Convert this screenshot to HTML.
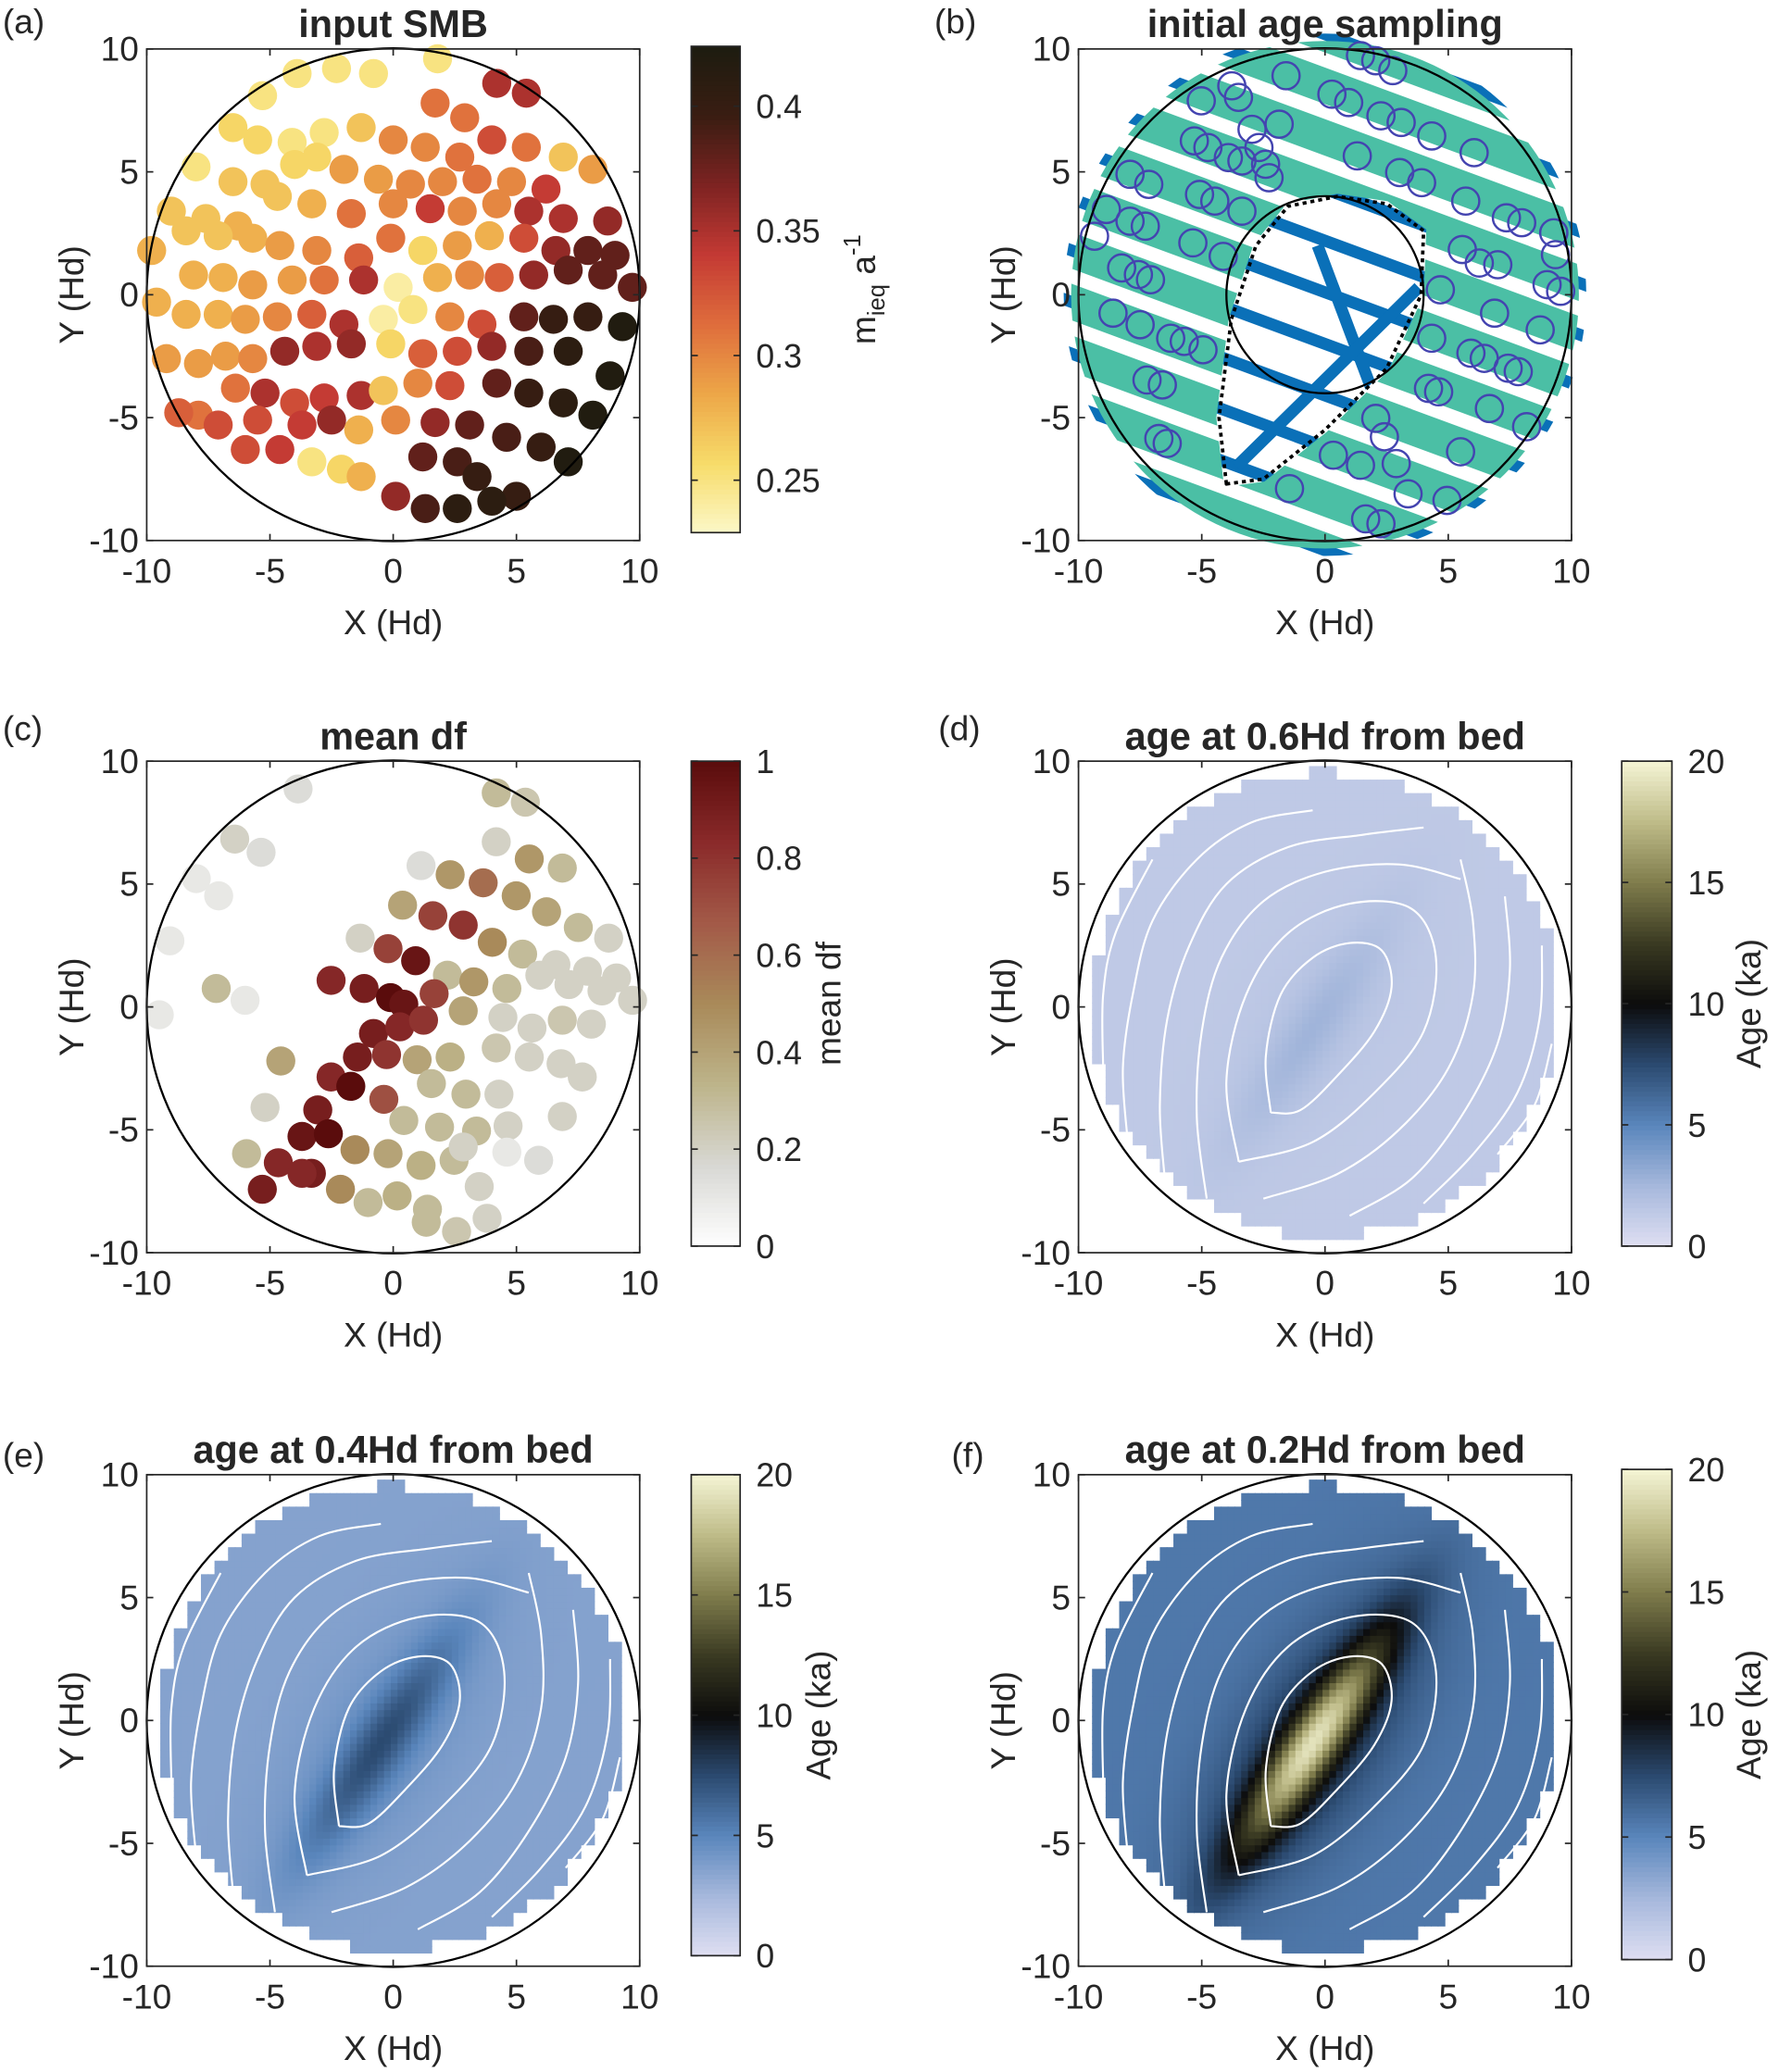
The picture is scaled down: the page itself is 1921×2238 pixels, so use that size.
<!DOCTYPE html>
<html><head><meta charset="utf-8"><style>
html,body{margin:0;padding:0;background:#fff}
svg{display:block}
text{font-family:"Liberation Sans",Arial,sans-serif;fill:#262626}
</style></head><body>
<svg id="fig" xmlns="http://www.w3.org/2000/svg" width="1921" height="2238" viewBox="0 0 1346 1568"></svg>
<script>
// ---------- DATA ----------
const ticks=[-10,-5,0,5,10];
const tickLabels=["-10","-5","0","5","10"];
// panel a: SMB scatter
const smbX=[-5.3,-3.9,-2.3,-0.8,1.7,2.9,4.2,5.4,1.8,-6.5,-5.5,-4.1,-2.8,-1.3,0,1.3,2.7,4.0,5.4,6.9,8.1,-8.0,-6.5,-5.2,-4.0,-3.1,-2.0,-0.6,0.7,2.0,3.4,4.8,6.2,-9.0,-7.6,-6.3,-4.7,-3.3,-1.7,0,1.5,2.8,4.2,5.5,6.9,8.7,-9.8,-8.4,-7.1,-5.7,-4.6,-3.1,-1.4,-0.1,1.2,2.6,3.9,5.3,6.6,7.9,9.0,-8.1,-6.9,-5.7,-4.1,-2.8,-1.2,0.2,1.8,3.1,4.3,5.7,7.1,8.5,9.7,-9.6,-8.4,-7.1,-6.0,-4.7,-3.3,-2.0,-0.4,0.8,2.3,3.6,5.3,6.5,7.9,9.3,-9.2,-7.9,-6.8,-5.7,-4.4,-3.1,-1.7,-0.1,1.2,2.6,4.0,5.5,7.1,8.8,-7.9,-6.4,-5.2,-4.0,-2.8,-1.3,-0.4,1.0,2.3,4.2,5.5,6.9,8.1,-8.7,-7.1,-5.5,-3.7,-2.5,-1.4,0.1,1.7,3.1,4.6,6.0,7.1,-6.0,-4.6,-3.3,-2.1,0.1,1.2,2.6,3.4,5.0,2.6,4.0,1.3,-1.3];
const smbY=[8.1,9.0,9.2,9.0,7.8,7.2,8.6,8.2,9.6,6.8,6.3,6.2,6.6,6.8,6.3,6.0,5.6,6.3,6.0,5.6,5.1,5.2,4.6,4.5,5.3,5.6,5.1,4.7,4.5,4.6,4.7,4.6,4.3,3.4,3.1,2.8,4.0,3.7,3.3,3.7,3.5,3.4,3.7,3.4,3.1,3.0,1.8,2.6,2.4,2.3,2.0,1.8,1.5,2.3,1.8,2.0,2.4,2.3,1.8,1.8,1.6,0.8,0.7,0.4,0.6,0.6,0.6,0.3,0.7,0.8,0.7,0.8,1.0,0.8,0.3,-0.3,-0.8,-0.8,-1.0,-0.9,-0.8,-1.2,-1.0,-0.6,-0.9,-1.2,-0.9,-1.0,-0.9,-1.3,-2.6,-2.8,-2.5,-2.6,-2.3,-2.1,-2.0,-2.0,-2.4,-2.3,-2.1,-2.3,-2.3,-3.3,-4.9,-3.8,-4.0,-4.4,-4.2,-4.1,-3.9,-3.6,-3.7,-3.6,-4.0,-4.4,-4.9,-4.8,-5.3,-5.1,-5.3,-5.1,-5.5,-5.1,-5.2,-5.3,-5.8,-6.2,-6.8,-6.3,-6.3,-6.8,-7.1,-8.2,-6.6,-6.8,-7.4,-8.2,-8.7,-8.4,-8.7,-7.4];
const smbV=[.25,.25,.25,.25,.31,.31,.35,.35,.25,.26,.26,.25,.25,.27,.30,.30,.31,.33,.31,.27,.29,.25,.27,.27,.26,.26,.29,.29,.30,.30,.31,.30,.34,.27,.27,.28,.27,.28,.31,.30,.34,.30,.30,.35,.35,.36,.28,.27,.27,.28,.29,.30,.32,.31,.26,.29,.28,.33,.36,.38,.38,.28,.28,.29,.29,.31,.35,.24,.28,.30,.32,.36,.38,.38,.38,.28,.28,.28,.29,.30,.32,.35,.24,.25,.30,.33,.38,.40,.40,.42,.29,.29,.29,.30,.36,.35,.36,.26,.32,.33,.36,.39,.41,.42,.31,.31,.35,.33,.34,.35,.27,.30,.33,.38,.40,.41,.42,.32,.33,.33,.34,.36,.28,.30,.36,.38,.39,.40,.42,.33,.34,.25,.26,.36,.38,.39,.40,.40,.41,.41,.39,.28];
const smbTicks=[0.25,0.3,0.35,0.4];
const smbRange=[0.229,0.424];
// panel b: sampling
const trackB=[10.6,8.5,6.4,4.3,2.2,0.1,-2.0,-4.1,-6.2,-8.3,-10.4,-12.5];
const trackSlope=-0.37;
const sampX=[1.44,2.06,2.75,-1.58,-3.78,-3.51,-5.02,0.28,0.96,2.27,3.09,-2.96,-1.86,4.33,6.05,1.31,-5.30,-4.75,-3.92,-3.37,-2.68,-2.41,-2.27,3.03,3.92,-7.91,-7.15,-5.09,-4.47,-3.37,5.71,7.36,7.98,9.28,9.35,-8.87,-7.91,-7.29,-9.35,-5.36,-4.13,5.57,6.26,7.01,9.01,9.56,-8.25,-7.57,-7.08,4.68,6.88,8.73,-8.60,-7.50,-6.26,-5.71,-4.95,4.33,5.92,6.46,7.43,7.84,4.20,4.61,-7.22,-6.60,-6.74,-6.40,2.06,2.41,6.67,8.18,0.34,1.44,2.89,5.50,-1.44,3.37,4.95,1.65,2.27];
const sampY=[9.73,9.52,9.12,8.91,8.50,8.03,7.89,8.16,7.82,7.28,7.01,6.73,6.94,6.46,5.78,5.65,6.26,5.99,5.58,5.44,5.99,5.31,4.76,4.97,4.56,4.90,4.49,4.08,3.81,3.40,3.81,3.13,2.93,2.52,1.63,3.47,2.99,2.79,2.38,2.11,1.56,1.84,1.29,1.22,0.41,0.14,1.09,0.82,0.61,0.20,-0.75,-1.43,-0.75,-1.22,-1.77,-1.90,-2.24,-1.77,-2.38,-2.59,-2.99,-3.13,-3.81,-3.95,-3.47,-3.67,-5.85,-6.05,-5.03,-5.78,-4.63,-5.37,-6.53,-6.94,-6.87,-6.39,-7.89,-8.10,-8.37,-9.12,-9.32];
const tearX=[-4,-4.3,-3.8,-2.8,-1.5,0.5,2.5,4,3.9,2.5,0,-2.5];
const tearY=[-7.7,-5,-1,2,3.6,4,3.7,2.6,0,-3,-5.5,-7.5];
const crossX1=[-0.3,2.1], crossY1=[2.0,-4.4];
const crossX2=[3.8,-3.6], crossY2=[0.3,-7.0];
// panel c: mean df
const dfX=[-3.86,-6.43,-5.36,-7.99,-7.08,-9.06,-9.49,-7.18,-6.01,4.18,5.36,4.18,5.52,6.86,1.13,2.31,3.65,4.99,6.22,7.51,8.74,0.38,1.61,2.84,4.02,5.25,6.60,7.88,9.06,-1.34,-0.21,0.91,2.20,3.27,4.61,5.95,7.13,8.47,9.71,-2.52,-1.18,-0.11,0.43,1.66,2.84,4.45,5.63,6.86,8.04,-0.80,0.27,1.23,-4.56,-1.45,-0.27,0.97,2.31,4.18,5.52,6.81,-2.52,-1.72,-0.38,1.55,2.95,4.29,7.67,-5.20,-3.06,-3.70,-2.63,0.43,1.88,3.38,4.66,6.86,-5.95,-4.66,-3.32,-1.55,-0.21,1.13,2.47,2.84,4.61,5.90,-5.31,-2.14,-1.02,0.16,1.39,3.49,3.81,2.57,1.34,-3.70];
const dfY=[8.87,6.83,6.29,5.22,4.52,2.69,-0.32,0.75,0.27,8.71,8.33,6.72,6.02,5.65,5.75,5.38,5.05,4.52,3.87,3.23,2.80,4.14,3.71,3.33,2.63,2.15,1.72,1.45,1.18,2.80,2.37,1.88,1.29,1.02,0.75,1.29,0.91,0.65,0.27,1.08,0.75,0.38,0.11,0.54,-0.16,-0.43,-0.86,-0.54,-0.70,-1.08,-0.81,-0.54,-2.20,-2.04,-1.94,-2.15,-2.04,-1.67,-2.04,-2.31,-2.85,-3.23,-3.76,-3.12,-3.55,-3.55,-2.85,-4.09,-4.19,-5.27,-5.16,-4.62,-4.89,-5.05,-4.84,-4.46,-5.97,-6.34,-6.77,-5.81,-5.97,-6.45,-6.24,-5.70,-5.91,-6.24,-7.42,-7.42,-7.96,-7.69,-8.23,-7.31,-8.60,-9.14,-8.76,-6.77];
const dfV=[.15,.2,.15,.1,.1,.1,.1,.3,.1,.3,.25,.2,.45,.3,.15,.45,.6,.45,.4,.3,.2,.4,.75,.8,.5,.3,.2,.2,.2,.2,.75,.95,.3,.45,.3,.2,.2,.2,.2,.85,.9,1,.95,.75,.4,.2,.2,.25,.2,.9,.85,.8,.4,.9,.8,.4,.35,.25,.2,.2,.85,1,.7,.3,.3,.2,.2,.2,.9,.95,1,.3,.3,.3,.2,.2,.3,.85,.9,.5,.4,.35,.3,.2,.1,.15,.9,.5,.3,.35,.3,.2,.2,.25,.3,.85];
const dfTicks=[0,0.2,0.4,0.6,0.8,1];
// panels d,e,f: age fields (ka)
const ageBase=[1.4,3.6,5.6];
const agePeak=[1.0,3.0,10.5];
const ageTicks=[0,5,10,15,20];
// streamlines (Hd)
const streamX=[[-2.2,-2.4,-1.8,-0.5,1,2.3,2.7,2,0.5,-1,-2.2],[-3.5,-4,-3.2,-1.5,1,3.5,4.5,4,2,-0.5,-3.5],[-4.8,-5.2,-5,-4.2,-2.5,0,3,5.5],[-6.5,-6.7,-6.4,-5.5,-4,-1.5,1.5,4],[-8,-8.2,-7.8,-7,-5.2,-3,-0.5],[-9,-9,-8.5,-7],[-2.5,0.5,3,5,6,6,5.5],[1,3.5,5.5,7,7.5,7.3],[4,6,7.8,8.7,8.8],[7,8.5,9.2]];
const streamY=[[-4.3,-2,0.5,2,2.6,2.3,0.8,-1,-2.8,-4.2,-4.3],[-6.3,-3,0.5,3,4.2,4,2,-1,-3.5,-5.5,-6.3],[-7.8,-4.5,-1,2,4.3,5.5,5.8,5.2],[-7,-4,-0.5,2.5,5,6.5,7,7.3],[-5.5,-2.5,0.5,3.5,6,7.5,8],[-2.5,0.5,3,6],[-7.8,-6.8,-5,-2.5,0.5,3.5,6],[-8.5,-7,-4.5,-1.5,1.5,4.5],[-8,-6,-3.5,-0.5,2.5],[-6,-4,-1.5]];

// ---------- HELPERS ----------
const NS="http://www.w3.org/2000/svg";
const svg=document.getElementById('fig');
function mk(tag,attrs,parent){const e=document.createElementNS(NS,tag);for(const k in attrs)e.setAttribute(k,attrs[k]);(parent||svg).appendChild(e);return e;}
function hex(c){return[parseInt(c.slice(1,3),16),parseInt(c.slice(3,5),16),parseInt(c.slice(5,7),16)];}
function cmap(stops,t){t=Math.max(0,Math.min(1,t));const n=stops.length-1;const i=Math.min(n-1,Math.floor(t*n));const f=t*n-i;const a=hex(stops[i]),b=hex(stops[i+1]);return'rgb('+a.map((v,k)=>Math.round(v+(b[k]-v)*f)).join(',')+')';}
const smbMap=['#fcf8c8','#f7dc6a','#eda748','#df6d3c','#c43a34','#7e2322','#3a1d12','#1d1c10'];
const dfMap=['#ffffff','#d8d8d4','#bdb48a','#a98a5a','#a35a48','#8a2a2a','#5a0c0c'];
const ageMap=['#dfdff2','#a6b8dc','#5a86bc','#2b4a70','#0c0c0c','#3a3a22','#7f7c4c','#bebb88','#f4f4d4'];
function smoothPath(pts){
  let d='M'+pts[0][0]+','+pts[0][1];
  for(let i=0;i<pts.length-1;i++){
    const p0=pts[Math.max(0,i-1)],p1=pts[i],p2=pts[i+1],p3=pts[Math.min(pts.length-1,i+2)];
    const c1=[p1[0]+(p2[0]-p0[0])/6,p1[1]+(p2[1]-p0[1])/6],c2=[p2[0]-(p3[0]-p1[0])/6,p2[1]-(p3[1]-p1[1])/6];
    d+=' C'+c1+' '+c2+' '+p2;
  }
  return d;
}

function panel(L,T,R,B,id){
  const sx=x=>L+(x+10)*(R-L)/20, sy=y=>B-(y+10)*(B-T)/20;
  return {L,T,R,B,sx,sy,k:(R-L)/20,id};
}
function axes(p,title,letter,lx,ly){
  const g=mk('g',{});
  
  const c=mk('circle',{cx:p.sx(0),cy:p.sy(0),r:10*p.k,fill:'none',stroke:'#000','stroke-width':1.6},g);
  
  const box=mk('rect',{x:p.L,y:p.T,width:p.R-p.L,height:p.B-p.T,fill:'none',stroke:'#262626','stroke-width':1.2},g);
  
  ticks.forEach((v,i)=>{
    const x=p.sx(v),y=p.sy(v);
    mk('line',{x1:x,x2:x,y1:p.B,y2:p.B-5,stroke:'#262626','stroke-width':1.2},g);
    mk('line',{x1:x,x2:x,y1:p.T,y2:p.T+5,stroke:'#262626','stroke-width':1.2},g);
    mk('line',{x1:p.L,x2:p.L+5,y1:y,y2:y,stroke:'#262626','stroke-width':1.2},g);
    mk('line',{x1:p.R,x2:p.R-5,y1:y,y2:y,stroke:'#262626','stroke-width':1.2},g);
    const tx=mk('text',{x:x,y:p.B+32,'font-size':26,'text-anchor':'middle'},g);tx.textContent=tickLabels[i];
    
    const ty=mk('text',{x:p.L-6,y:y+9,'font-size':26,'text-anchor':'end'},g);ty.textContent=tickLabels[i];
    
  });
  const xl=mk('text',{x:(p.L+p.R)/2,y:p.B+71,'font-size':26,'text-anchor':'middle'},g);xl.textContent='X (Hd)';
  
  const yx=p.L-48,yy=(p.T+p.B)/2;
  const yl=mk('text',{x:yx,y:yy,'font-size':26,'text-anchor':'middle',transform:`rotate(-90 ${yx} ${yy})`},g);yl.textContent='Y (Hd)';
  
  const tt=mk('text',{x:(p.L+p.R)/2,y:p.T-9,'font-size':29,'font-weight':'bold','text-anchor':'middle'},g);tt.textContent=title;
  
  const lt=mk('text',{x:lx,y:ly,'font-size':26},g);lt.textContent=letter;
  
}
function colorbar(id,x0,y0,x1,y1,stops,vmin,vmax,tks,labels,label,labelX){
  const g=mk('g',{});
  
  const n=100,h=(y1-y0)/n;
  for(let i=0;i<n;i++){mk('rect',{x:x0,y:y1-(i+1)*h,width:x1-x0,height:h+0.6,fill:cmap(stops,(i+0.5)/n)},g);}
  mk('rect',{x:x0,y:y0,width:x1-x0,height:y1-y0,fill:'none',stroke:'#262626','stroke-width':1.2},g);
  tks.forEach((v,i)=>{const y=y1-(v-vmin)/(vmax-vmin)*(y1-y0);
    mk('line',{x1:x1,x2:x1-5,y1:y,y2:y,stroke:'#262626','stroke-width':1.2},g);
    mk('line',{x1:x0,x2:x0+5,y1:y,y2:y,stroke:'#262626','stroke-width':1.2},g);
    const t=mk('text',{x:x1+12,y:y+9,'font-size':25},g);t.textContent=labels[i];
    });
  const cy=(y0+y1)/2;
  const t=mk('text',{x:labelX,y:cy,'font-size':26,'text-anchor':'middle',transform:`rotate(-90 ${labelX} ${cy})`},g);
  t.innerHTML=label;
  
}

// ---------- PANEL A ----------
const pa=panel(111,37,484,409,'panel-a');
const ga=mk('g',{});
smbX.forEach((x,i)=>{const c=mk('circle',{cx:pa.sx(x),cy:pa.sy(smbY[i]),r:11,fill:cmap(smbMap,(smbV[i]-smbRange[0])/(smbRange[1]-smbRange[0]))},ga);
  });
axes(pa,'input SMB','(a)',2,25);
colorbar('smb',523,35,560,403,smbMap,smbRange[0],smbRange[1],smbTicks,['0.25','0.3','0.35','0.4'],'m<tspan font-size="18" dy="7">ieq</tspan><tspan dy="-7"> a</tspan><tspan font-size="18" dy="-11">-1</tspan>',662);

// ---------- PANEL B ----------
const pb=panel(816,37,1189,409,'panel-b');
const defs=mk('defs',{});
const tearPts=tearX.map((x,i)=>pb.sx(x)+','+pb.sy(tearY[i]));
const cpb=mk('clipPath',{id:'cpb'},defs);mk('circle',{cx:pb.sx(0),cy:pb.sy(0),r:10.6*pb.k},cpb);
const cpt=mk('clipPath',{id:'cpt'},defs);mk('polygon',{points:tearPts.join(' ')},cpt);
const mg=mk('mask',{id:'mgreen'},defs);
mk('circle',{cx:pb.sx(0),cy:pb.sy(0),r:10.3*pb.k,fill:'#fff'},mg);
mk('polygon',{points:tearPts.join(' '),fill:'#000',stroke:'#000','stroke-width':4},mg);
const gb=mk('g',{'clip-path':'url(#cpb)'});
trackB.forEach(b=>{const l=mk('line',{x1:pb.sx(-12),y1:pb.sy(b-trackSlope*12),x2:pb.sx(12),y2:pb.sy(b+trackSlope*12),stroke:'#0a70b8','stroke-width':9,'stroke-linecap':'round'},gb);
  });
const gx=mk('g',{'clip-path':'url(#cpt)'},gb);
[[crossX1,crossY1],[crossX2,crossY2]].forEach(([xs,ys])=>{const l=mk('line',{x1:pb.sx(xs[0]),y1:pb.sy(ys[0]),x2:pb.sx(xs[1]),y2:pb.sy(ys[1]),stroke:'#0a70b8','stroke-width':9},gx);
  });
const gg=mk('g',{mask:'url(#mgreen)'});
trackB.forEach(b=>{const l=mk('line',{x1:pb.sx(-12),y1:pb.sy(b-trackSlope*12),x2:pb.sx(12),y2:pb.sy(b+trackSlope*12),stroke:'#4bbfa5','stroke-width':26,'stroke-linecap':'round'},gg);
  });
const gs=mk('g',{});
sampX.forEach((x,i)=>{const c=mk('circle',{cx:pb.sx(x),cy:pb.sy(sampY[i]),r:0.55*pb.k,fill:'none',stroke:'#4444b0','stroke-width':1.7},gs);
  });
const ic=mk('circle',{cx:pb.sx(0),cy:pb.sy(0),r:4*pb.k,fill:'none',stroke:'#000','stroke-width':1.6});

const td=mk('polygon',{points:tearPts.join(' '),fill:'none',stroke:'#000','stroke-width':2.6,'stroke-dasharray':'3 3','stroke-linejoin':'round'});

axes(pb,'initial age sampling','(b)',707,25);

// ---------- PANEL C ----------
const pc=panel(111,576,484,948,'panel-c');
const gc=mk('g',{});
dfX.forEach((x,i)=>{const c=mk('circle',{cx:pc.sx(x),cy:pc.sy(dfY[i]),r:11,fill:cmap(dfMap,dfV[i])},gc);
  });
axes(pc,'mean df','(c)',2,560);
colorbar('df',523,576,560,943,dfMap,0,1,dfTicks,['0','0.2','0.4','0.6','0.8','1'],'mean df',636);

// ---------- PANELS D,E,F ----------
function ageField(p,idx,title,letter,lx,ly,cb){
  const g=mk('g',{});
  const cs=0.55, fs=0.275;
  const ang=Math.PI*56/180, ca=Math.cos(ang), sa=Math.sin(ang);
  for(let X=-10;X<10;X+=cs){for(let Y=-10;Y<10;Y+=cs){
    const cx=X+cs/2,cy=Y+cs/2; if(Math.hypot(cx,cy-0.1)>9.45) continue;
    for(let a=0;a<2;a++)for(let b=0;b<2;b++){
      const x=X+a*fs+fs/2,y=Y+b*fs+fs/2;
      const u=(x+0.5)*ca+(y+0.9)*sa, v=-(x+0.5)*sa+(y+0.9)*ca;
      const val=ageBase[idx]+agePeak[idx]*Math.exp(-((u/5.2)**2)-((v/1.05)**2))+0.3*agePeak[idx]*Math.exp(-((u/6.5)**2)-((v/2.6)**2));
      mk('rect',{x:p.sx(X+a*fs),y:p.sy(Y+(b+1)*fs),width:fs*p.k+0.6,height:fs*p.k+0.6,fill:cmap(ageMap,val/20)},g);
    }
  }}
  const gl=mk('g',{fill:'none',stroke:'#fff','stroke-width':1.5,'stroke-linejoin':'round'});
  
  streamX.forEach((xs,i)=>{const l=mk('path',{d:smoothPath(xs.map((x,j)=>[p.sx(x),p.sy(streamY[i][j])]))},gl);
    });
  axes(p,title,letter,lx,ly);
  colorbar(p.id+'-age',cb[0],cb[1],cb[2],cb[3],ageMap,0,20,ageTicks,['0','5','10','15','20'],'Age (ka)',cb[4]);
}
ageField(panel(816,576,1189,948,'panel-d'),0,'age at 0.6Hd from bed','(d)',710,560,[1227,576,1265,943,1332]);
ageField(panel(111,1116,484,1488,'panel-e'),1,'age at 0.4Hd from bed','(e)',2,1110,[523,1116,560,1480,628]);
ageField(panel(816,1116,1189,1488,'panel-f'),2,'age at 0.2Hd from bed','(f)',720,1110,[1227,1112,1265,1483,1332]);
</script>
</body></html>
